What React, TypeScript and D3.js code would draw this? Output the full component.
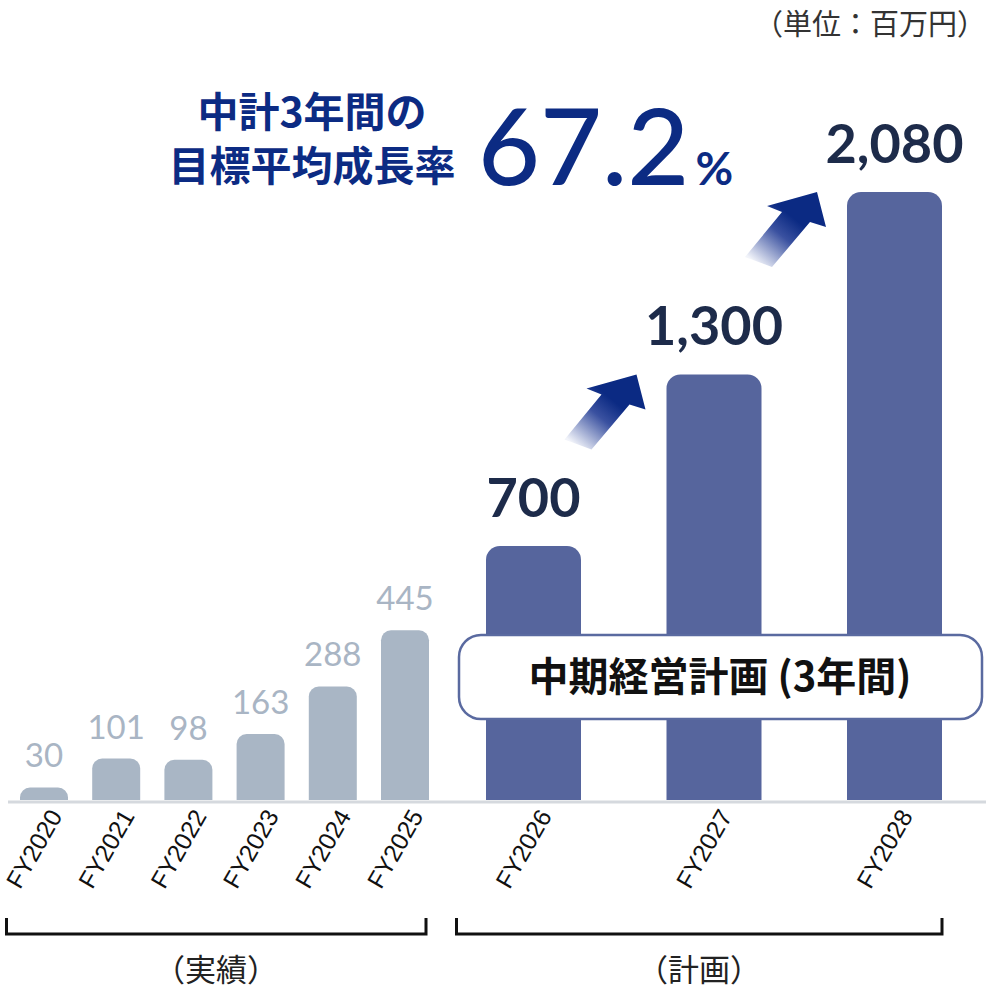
import React from "react";
import * as d3 from "d3";

const actualYears = ["FY2020", "FY2021", "FY2022", "FY2023", "FY2024", "FY2025"];
const actualValues = [30, 101, 98, 163, 288, 445];
const planYears = ["FY2026", "FY2027", "FY2028"];
const planValues = [700, 1300, 2080];
const unitLabel = "（単位：百万円）";
const headline1 = "中計3年間の";
const headline2 = "目標平均成長率";
const rateValue = "67.2";
const rateUnit = "%";
const calloutText = "中期経営計画 (3年間)";
const actualGroupLabel = "（実績）";
const planGroupLabel = "（計画）";

const W = 986;
const H = 1002;
const BASE = 800;
const CJK = "'Noto Sans CJK JP', 'Noto Sans', sans-serif";
const NUM = "Lato, 'Noto Sans', sans-serif";
const LAT = "'Liberation Sans', Arial, sans-serif";

const y = d3.scaleSymlog().constant(2100).domain([0, 2080]).range([BASE, 192]);
const xA = d3.scalePoint<string>().domain(actualYears).range([44, 405]);
const xP = d3.scalePoint<string>().domain(planYears).range([533.5, 894.5]);

function topRounded(cx: number, w: number, top: number, r: number) {
  const x0 = cx - w / 2;
  const x1 = cx + w / 2;
  const rr = Math.min(r, (BASE - top));
  const p = d3.path();
  p.moveTo(x0, BASE);
  p.lineTo(x0, top + rr);
  p.arcTo(x0, top, x0 + rr, top, rr);
  p.lineTo(x1 - rr, top);
  p.arcTo(x1, top, x1, top + rr, rr);
  p.lineTo(x1, BASE);
  p.closePath();
  return p.toString();
}

// arrow outline relative to its tip
const arrowShape: [number, number][] = [
  [0, 0], [9, 35], [-7, 30], [-45, 75], [-72, 65], [-35, 20], [-50, 14],
];

export default function App() {
  const arrows = planValues.slice(1).map((v, i) => {
    const tx = (xP(planYears[i + 1]) as number) - 47.5 - 30;
    const ty = y(v);
    const pts = arrowShape.map(([dx, dy]) => `${tx + dx},${ty + dy}`).join(" ");
    return { tx, ty, pts, id: `ag${i}` };
  });

  return (
    <svg width={W} height={H} style={{ position: "absolute", left: 0, top: 0, background: "#fff" }}>
      <defs>
        {arrows.map((a) => (
          <linearGradient key={a.id} id={a.id} gradientUnits="userSpaceOnUse"
            x1={a.tx - 60} y1={a.ty + 72} x2={a.tx - 12} y2={a.ty + 14}>
            <stop offset="0" stopColor="#f2f4fa" />
            <stop offset="0.5" stopColor="#3a51a0" />
            <stop offset="0.78" stopColor="#0b2a83" />
            <stop offset="1" stopColor="#0b2a83" />
          </linearGradient>
        ))}
      </defs>

      <text x={986} y={35} textAnchor="end" fontFamily={CJK} fontSize={29} fill="#333">
        {unitLabel}
      </text>

      <text x={312} y={127} textAnchor="middle" fontFamily={CJK} fontWeight={700} fontSize={41} fill="#0c2b83">
        {headline1}
      </text>
      <text x={312} y={181} textAnchor="middle" fontFamily={CJK} fontWeight={700} fontSize={41} fill="#0c2b83">
        {headline2}
      </text>
      <text x={478} y={185} fontFamily={NUM} fontWeight={500} fontSize={107} fill="#0c2b83">
        {rateValue}
        <tspan dx={6} fontSize={46} fontWeight={700}>{rateUnit}</tspan>
      </text>

      {actualYears.map((yr, i) => {
        const cx = xA(yr) as number;
        const top = y(actualValues[i]);
        return (
          <g key={yr}>
            <path d={topRounded(cx, 48, top, 10)} fill="#a9b6c5" />
            <text x={cx} y={top - 20} textAnchor="middle" fontFamily={NUM} fontWeight={400} fontSize={33} fill="#a9b5c4">
              {actualValues[i]}
            </text>
          </g>
        );
      })}

      {planYears.map((yr, i) => {
        const cx = xP(yr) as number;
        const top = y(planValues[i]);
        return (
          <g key={yr}>
            <path d={topRounded(cx, 95, top, 14)} fill="#56659d" />
            <text x={cx} y={top - 29} textAnchor="middle" fontFamily={NUM} fontWeight={700} fontSize={54} fill="#1d2b4a">
              {d3.format(",")(planValues[i])}
            </text>
          </g>
        );
      })}

      {arrows.map((a) => (
        <polygon key={a.id} points={a.pts} fill={`url(#${a.id})`} />
      ))}

      <line x1={8} x2={986} y1={802} y2={802} stroke="#d5d9de" strokeWidth={3} />

      <rect x={459} y={635} width={523} height={84} rx={22} fill="#fff" stroke="#5a6aa0" strokeWidth={2.5} />
      <text x={720} y={691} textAnchor="middle" fontFamily={CJK} fontWeight={700} fontSize={40} fill="#111">
        {calloutText}
      </text>

      {actualYears.map((yr) => {
        const cx = (xA(yr) as number) + 19;
        return (
          <text key={yr} transform={`translate(${cx},816) rotate(-60)`} textAnchor="end"
            fontFamily={LAT} fontSize={24.5} fill="#111">{yr}</text>
        );
      })}
      {planYears.map((yr) => {
        const cx = (xP(yr) as number) + 19;
        return (
          <text key={yr} transform={`translate(${cx},816) rotate(-60)`} textAnchor="end"
            fontFamily={LAT} fontSize={24.5} fill="#111">{yr}</text>
        );
      })}

      <path d="M6.5,918 V934 H426 V918" fill="none" stroke="#111" strokeWidth={3} />
      <path d="M456.5,918 V934 H942 V918" fill="none" stroke="#111" strokeWidth={3} />

      <text x={216} y={981} textAnchor="middle" fontFamily={CJK} fontSize={31} fill="#222">{actualGroupLabel}</text>
      <text x={699} y={981} textAnchor="middle" fontFamily={CJK} fontSize={31} fill="#222">{planGroupLabel}</text>
    </svg>
  );
}
